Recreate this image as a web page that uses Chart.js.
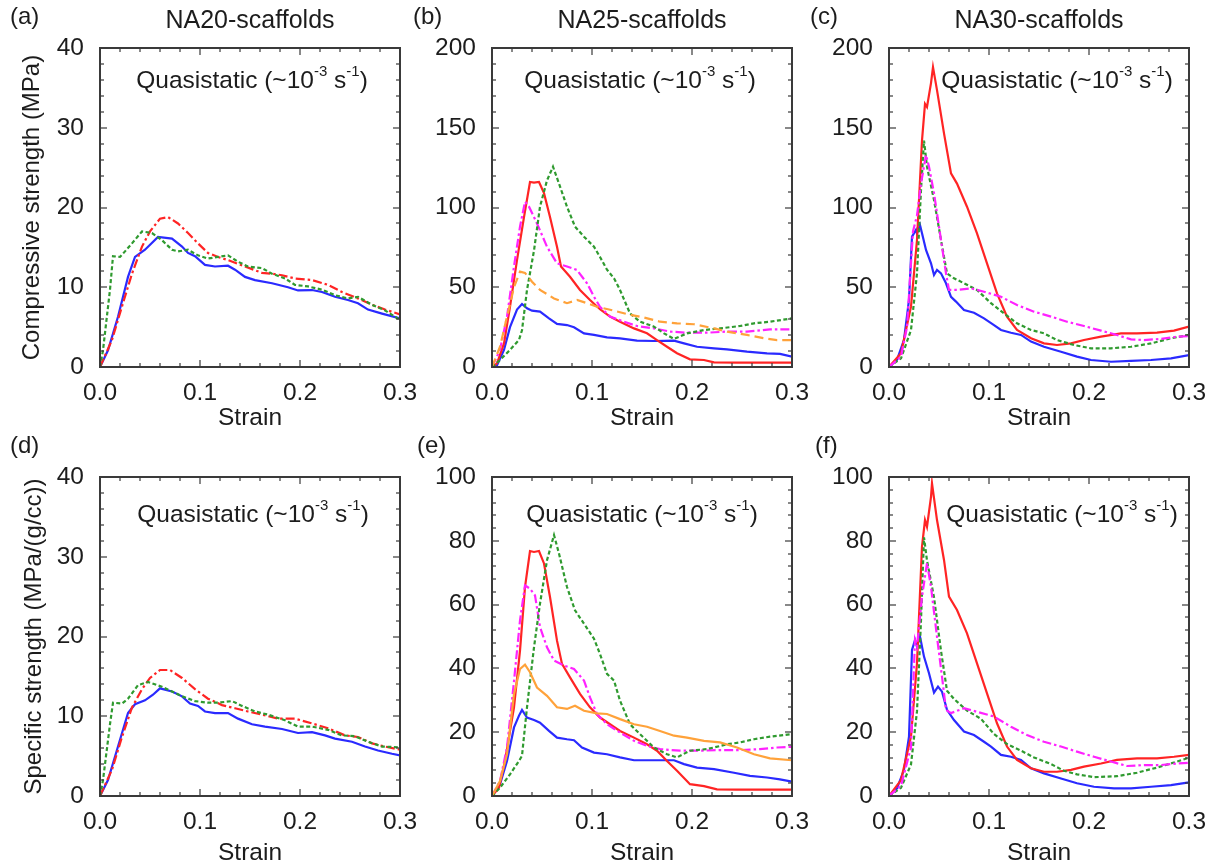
<!DOCTYPE html>
<html>
<head>
<meta charset="utf-8">
<script src="https://cdn.jsdelivr.net/npm/chart.js@4.4.1/dist/chart.umd.min.js"></script>
<style>
html, body { margin: 0; padding: 0; background: #fff; }
#fig { position: relative; width: 1211px; height: 867px; overflow: hidden; }
.cell { position: absolute; }
</style>
</head>
<body>
<div id="fig">
  <div class="cell" style="left:0;top:0"><canvas id="pa" width="425" height="430"></canvas></div>
  <div class="cell" style="left:410px;top:0"><canvas id="pb" width="405" height="430"></canvas></div>
  <div class="cell" style="left:805px;top:0"><canvas id="pc" width="406" height="430"></canvas></div>
  <div class="cell" style="left:0;top:430px"><canvas id="pd" width="425" height="437"></canvas></div>
  <div class="cell" style="left:410px;top:430px"><canvas id="pe" width="405" height="437"></canvas></div>
  <div class="cell" style="left:805px;top:430px"><canvas id="pf" width="406" height="437"></canvas></div>
</div>
<script>
// ---- data (strain, stress) ----
// (a) NA20 compressive strength
var aBlueX  = [0, 0.008, 0.018, 0.028, 0.035, 0.045, 0.058, 0.072, 0.082, 0.088, 0.095, 0.105, 0.115, 0.128, 0.135, 0.145, 0.155, 0.172, 0.188, 0.198, 0.212, 0.222, 0.235, 0.248, 0.258, 0.268, 0.282, 0.3];
var aBlueY  = [0, 2.1, 6.3, 11.3, 13.8, 14.7, 16.3, 16.1, 15.1, 14.3, 13.9, 12.8, 12.6, 12.7, 12.2, 11.3, 10.9, 10.5, 10.0, 9.6, 9.65, 9.4, 8.8, 8.4, 8.0, 7.2, 6.7, 6.1];
var aRedX   = [0, 0.012, 0.022, 0.032, 0.042, 0.05, 0.06, 0.068, 0.078, 0.088, 0.098, 0.108, 0.118, 0.128, 0.145, 0.162, 0.172, 0.182, 0.195, 0.212, 0.228, 0.242, 0.258, 0.272, 0.285, 0.3];
var aRedY   = [0, 3.4, 7.6, 11.7, 15.1, 17.0, 18.6, 18.8, 18.0, 16.8, 15.5, 14.3, 13.8, 13.4, 12.6, 11.8, 11.7, 11.5, 11.1, 10.9, 10.3, 9.4, 8.6, 7.8, 7.2, 6.6];
var aGreenX = [0, 0.003, 0.01, 0.013, 0.02, 0.025, 0.032, 0.042, 0.052, 0.062, 0.072, 0.078, 0.088, 0.098, 0.108, 0.118, 0.128, 0.138, 0.148, 0.162, 0.172, 0.185, 0.195, 0.208, 0.222, 0.235, 0.248, 0.258, 0.272, 0.285, 0.3];
var aGreenY = [0, 2.1, 9.7, 13.9, 13.8, 14.5, 15.5, 17.0, 16.8, 15.9, 14.7, 14.5, 14.7, 14.0, 13.6, 13.8, 14.0, 13.2, 12.6, 12.4, 11.7, 11.1, 10.3, 10.1, 9.7, 9.0, 8.6, 8.8, 7.8, 7.1, 5.9];

// (b) NA25 compressive strength
var bBlueX   = [0, 0.005, 0.012, 0.018, 0.025, 0.03, 0.035, 0.04, 0.048, 0.057, 0.065, 0.075, 0.082, 0.092, 0.102, 0.115, 0.128, 0.145, 0.162, 0.182, 0.192, 0.205, 0.222, 0.235, 0.255, 0.275, 0.288, 0.3];
var bBlueY   = [0, 1, 10.7, 25, 36, 39.5, 36.8, 35.3, 34.7, 30.5, 27, 26.3, 24.9, 21.1, 20.1, 18.6, 18, 16.5, 16.3, 16.5, 14.8, 12.7, 11.7, 11.1, 9.6, 8.6, 8.2, 6.5];
var bRedX    = [0, 0.005, 0.012, 0.018, 0.025, 0.032, 0.038, 0.042, 0.047, 0.052, 0.058, 0.065, 0.069, 0.078, 0.088, 0.098, 0.108, 0.118, 0.128, 0.142, 0.155, 0.165, 0.175, 0.185, 0.198, 0.212, 0.222, 0.245, 0.3];
var bRedY    = [0, 2.3, 14.8, 37.8, 67, 94, 116, 115.6, 116, 109, 94, 75.4, 63, 56.6, 48.3, 42, 36.2, 31.6, 28.4, 24.2, 21.1, 16.9, 12.7, 8.6, 4.8, 4.4, 2.9, 2.7, 2.7];
var bMagX    = [0, 0.008, 0.015, 0.022, 0.028, 0.033, 0.037, 0.045, 0.055, 0.065, 0.075, 0.085, 0.095, 0.102, 0.108, 0.118, 0.132, 0.145, 0.162, 0.178, 0.195, 0.215, 0.235, 0.255, 0.278, 0.3];
var bMagY    = [0, 10.7, 31.5, 63, 88, 103.6, 100.5, 90, 75.4, 65, 63, 60.8, 52.5, 44, 37.8, 31.6, 28.4, 25.7, 24.2, 22.2, 21.5, 21.5, 22.2, 22.2, 23.6, 23.6];
var bOrangeX = [0, 0.008, 0.015, 0.022, 0.028, 0.033, 0.04, 0.048, 0.062, 0.075, 0.085, 0.095, 0.105, 0.122, 0.135, 0.152, 0.168, 0.185, 0.202, 0.222, 0.235, 0.255, 0.272, 0.285, 0.3];
var bOrangeY = [0, 12.7, 31.5, 50, 59.8, 59, 53.5, 48.3, 43, 40, 42, 40, 37.8, 35.3, 33.2, 31, 28.4, 27.4, 26.8, 24.2, 22.2, 20.1, 18, 16.9, 16.9];
var bGreenX  = [0, 0.008, 0.018, 0.027, 0.03, 0.035, 0.042, 0.048, 0.055, 0.061, 0.067, 0.075, 0.083, 0.092, 0.102, 0.108, 0.115, 0.122, 0.128, 0.138, 0.148, 0.162, 0.172, 0.182, 0.195, 0.212, 0.228, 0.248, 0.262, 0.278, 0.3];
var bGreenY  = [0, 4.4, 10.7, 17, 23, 48.3, 73, 100.5, 117, 125.6, 115, 100.5, 88, 81.7, 75.4, 69, 61, 55.6, 48.3, 33.6, 28.4, 25.3, 21.1, 17.6, 21.1, 23.2, 24.2, 25.7, 27.4, 28.4, 30.5];

// (c) NA30 compressive strength
var cBlueX  = [0, 0.008, 0.015, 0.02, 0.023, 0.027, 0.028, 0.031, 0.033, 0.037, 0.042, 0.045, 0.048, 0.052, 0.057, 0.062, 0.067, 0.075, 0.085, 0.095, 0.105, 0.112, 0.122, 0.132, 0.142, 0.155, 0.172, 0.188, 0.202, 0.222, 0.242, 0.262, 0.282, 0.3];
var cBlueY  = [0, 4.4, 17, 42, 81.7, 86, 83.8, 89, 83.8, 73.4, 65, 57.7, 60.8, 58.7, 52.5, 44, 41, 35.7, 34, 30.5, 26.3, 23.2, 21.5, 20.1, 15.9, 12.7, 9.6, 6.5, 4.4, 3.3, 3.8, 4.4, 5.4, 7.5];
var cRedX   = [0, 0.012, 0.022, 0.028, 0.033, 0.036, 0.038, 0.042, 0.044, 0.048, 0.055, 0.062, 0.068, 0.078, 0.088, 0.098, 0.108, 0.118, 0.128, 0.142, 0.155, 0.168, 0.182, 0.195, 0.212, 0.232, 0.248, 0.268, 0.285, 0.3];
var cRedY   = [0, 8.6, 37.8, 79.6, 142, 165, 163, 178, 188, 173.6, 146.5, 121.4, 115, 100.5, 83.8, 65, 46.2, 31.6, 23.2, 18, 14.8, 13.8, 14.8, 16.9, 19, 21.1, 21.1, 21.5, 22.8, 25.3];
var cGreenX = [0, 0.012, 0.022, 0.028, 0.032, 0.035, 0.038, 0.045, 0.052, 0.058, 0.065, 0.075, 0.088, 0.102, 0.115, 0.128, 0.142, 0.155, 0.168, 0.185, 0.202, 0.222, 0.242, 0.262, 0.282, 0.3];
var cGreenY = [0, 5.4, 23.2, 58.7, 111, 142, 125.6, 104.7, 79.6, 58.7, 55.6, 52.5, 48.3, 40, 33.6, 27.4, 23.2, 21.1, 16.9, 13.8, 11.7, 11.7, 12.7, 14.8, 18, 20.1];
var cMagX   = [0, 0.012, 0.018, 0.024, 0.028, 0.032, 0.037, 0.04, 0.045, 0.052, 0.057, 0.06, 0.068, 0.082, 0.095, 0.112, 0.128, 0.145, 0.162, 0.178, 0.195, 0.212, 0.228, 0.242, 0.255, 0.272, 0.288, 0.3];
var cMagY   = [0, 6.5, 25, 85, 95, 115, 133, 125.6, 109, 79.6, 58.7, 48.3, 48.3, 49.3, 47.2, 44, 38.9, 34.7, 31.6, 28.4, 25.7, 22.8, 20.1, 17.3, 16.9, 17.6, 19, 19.4];

// (d) NA20 specific strength
var dBlueX  = [0, 0.008, 0.018, 0.028, 0.035, 0.045, 0.053, 0.06, 0.072, 0.082, 0.09, 0.098, 0.105, 0.115, 0.128, 0.138, 0.152, 0.165, 0.182, 0.198, 0.212, 0.225, 0.235, 0.252, 0.265, 0.278, 0.292, 0.3];
var dBlueY  = [0, 2.0, 6.2, 10.4, 11.5, 12.0, 12.7, 13.5, 13.1, 12.5, 11.6, 11.3, 10.6, 10.4, 10.4, 9.7, 9.0, 8.7, 8.4, 7.9, 8.0, 7.6, 7.2, 6.8, 6.2, 5.7, 5.3, 5.1];
var dRedX   = [0, 0.012, 0.022, 0.032, 0.042, 0.05, 0.06, 0.07, 0.082, 0.095, 0.108, 0.122, 0.135, 0.148, 0.162, 0.178, 0.195, 0.212, 0.228, 0.245, 0.258, 0.272, 0.285, 0.3];
var dRedY   = [0, 3.3, 7.4, 11.1, 13.4, 14.8, 15.8, 15.8, 14.8, 13.4, 12.2, 11.4, 11.0, 10.6, 10.2, 9.7, 9.7, 9.1, 8.5, 7.6, 7.4, 6.6, 6.2, 5.8];
var dGreenX = [0, 0.003, 0.01, 0.013, 0.022, 0.028, 0.038, 0.048, 0.062, 0.072, 0.082, 0.095, 0.108, 0.118, 0.132, 0.142, 0.155, 0.168, 0.185, 0.198, 0.212, 0.228, 0.242, 0.255, 0.268, 0.282, 0.3];
var dGreenY = [0, 2.0, 9.0, 11.7, 11.6, 12.2, 13.9, 14.3, 13.7, 13.1, 12.5, 11.9, 11.7, 11.7, 11.9, 11.3, 10.6, 10.2, 9.5, 8.7, 8.7, 8.3, 7.6, 7.5, 6.8, 6.2, 6.1];

// (e) NA25 specific strength
var eBlueX   = [0, 0.008, 0.015, 0.022, 0.027, 0.03, 0.035, 0.042, 0.048, 0.057, 0.065, 0.075, 0.082, 0.09, 0.102, 0.115, 0.128, 0.142, 0.162, 0.182, 0.192, 0.205, 0.222, 0.242, 0.258, 0.275, 0.288, 0.3];
var eBlueY   = [0, 3.7, 11, 21.5, 25.2, 27, 24.6, 23.8, 23, 20.4, 18.3, 17.8, 17.5, 15.2, 13.6, 13.1, 12.1, 11.2, 11.2, 11.2, 10, 8.9, 8.4, 7.3, 6.3, 5.8, 5.2, 4.5];
var eRedX    = [0, 0.007, 0.013, 0.022, 0.028, 0.033, 0.038, 0.042, 0.047, 0.052, 0.058, 0.065, 0.07, 0.078, 0.088, 0.098, 0.108, 0.118, 0.128, 0.142, 0.155, 0.165, 0.175, 0.185, 0.198, 0.212, 0.225, 0.245, 0.3];
var eRedY    = [0, 2.6, 11, 27.8, 45.6, 65.5, 76.8, 76.5, 76.8, 72.9, 62.4, 48.7, 41.4, 37.2, 32, 27.8, 24.6, 22.5, 20.4, 18.3, 16.2, 14.2, 11, 7.9, 3.7, 3.1, 2.1, 2, 2];
var eMagX    = [0, 0.008, 0.015, 0.022, 0.028, 0.033, 0.038, 0.043, 0.048, 0.055, 0.062, 0.072, 0.082, 0.092, 0.098, 0.105, 0.115, 0.128, 0.142, 0.155, 0.168, 0.188, 0.208, 0.228, 0.248, 0.268, 0.285, 0.3];
var eMagY    = [0, 4.7, 15.2, 36, 55, 66, 65, 62.9, 53, 46.6, 42.5, 40.9, 39.8, 36.2, 30.9, 25.7, 22.5, 19.9, 17.3, 15.7, 14.7, 14.2, 14.2, 14.4, 14.4, 14.7, 15.2, 15.4];
var eOrangeX = [0, 0.008, 0.015, 0.022, 0.028, 0.033, 0.038, 0.045, 0.055, 0.065, 0.075, 0.083, 0.092, 0.105, 0.115, 0.128, 0.142, 0.155, 0.168, 0.182, 0.195, 0.212, 0.228, 0.245, 0.262, 0.278, 0.3];
var eOrangeY = [0, 4.7, 13.1, 32, 39.8, 41.2, 38.8, 34, 31.4, 27.8, 27.3, 28.3, 26.7, 25.9, 25.7, 24.1, 22.5, 21.7, 20.4, 18.9, 18.3, 17.3, 16.8, 15.2, 13.1, 11.8, 11.2];
var eGreenX  = [0, 0.008, 0.018, 0.027, 0.03, 0.035, 0.042, 0.048, 0.055, 0.062, 0.067, 0.075, 0.083, 0.092, 0.102, 0.108, 0.115, 0.122, 0.128, 0.138, 0.148, 0.162, 0.175, 0.185, 0.198, 0.215, 0.235, 0.248, 0.262, 0.278, 0.3];
var eGreenY  = [0, 2.6, 6.8, 11, 12.6, 27.8, 46.6, 60.3, 73.9, 81.8, 76, 65.5, 58.2, 54, 49.3, 44.5, 38.3, 36.2, 29.9, 22.5, 19.4, 15.2, 13.1, 12.1, 14.2, 14.7, 16.2, 16.8, 17.8, 18.6, 19.4];

// (f) NA30 specific strength
var fBlueX  = [0, 0.008, 0.015, 0.02, 0.023, 0.026, 0.028, 0.031, 0.035, 0.04, 0.045, 0.049, 0.053, 0.058, 0.065, 0.075, 0.085, 0.095, 0.102, 0.112, 0.122, 0.132, 0.142, 0.155, 0.172, 0.188, 0.205, 0.225, 0.242, 0.262, 0.282, 0.3];
var fBlueY  = [0, 2.4, 8.2, 18.6, 45.8, 48.9, 46.8, 50, 43.7, 38.5, 32.4, 34.3, 32.7, 27, 23.8, 20.2, 19.1, 17, 15.5, 12.9, 12.3, 11.3, 8.7, 7.1, 5.5, 4, 2.9, 2.4, 2.4, 2.9, 3.4, 4.3];
var fRedX   = [0, 0.012, 0.022, 0.028, 0.033, 0.036, 0.038, 0.042, 0.043, 0.048, 0.055, 0.06, 0.068, 0.078, 0.088, 0.098, 0.108, 0.118, 0.128, 0.142, 0.155, 0.168, 0.182, 0.195, 0.212, 0.228, 0.248, 0.268, 0.285, 0.3];
var fRedY   = [0, 5, 18.6, 41.6, 78.2, 86.5, 84.4, 93.8, 98, 86.5, 74, 62.5, 58.3, 51, 41.6, 32.2, 22.8, 15.5, 11.3, 8.7, 7.6, 7.6, 8.2, 9.2, 10.2, 11.3, 11.8, 11.8, 12.3, 12.9];
var fGreenX = [0, 0.012, 0.022, 0.028, 0.032, 0.035, 0.038, 0.045, 0.052, 0.058, 0.065, 0.078, 0.092, 0.105, 0.118, 0.132, 0.145, 0.162, 0.175, 0.188, 0.205, 0.228, 0.248, 0.268, 0.285, 0.3];
var fGreenY = [0, 2.6, 9.9, 26.6, 55, 81.1, 73.8, 62.3, 45.5, 33, 30.4, 26.8, 24.2, 19.4, 16.3, 14.2, 12.1, 10, 7.9, 6.8, 5.9, 6.2, 7.3, 8.9, 10.5, 12];
var fMagX   = [0, 0.012, 0.022, 0.026, 0.028, 0.033, 0.038, 0.042, 0.048, 0.053, 0.057, 0.062, 0.075, 0.088, 0.105, 0.122, 0.138, 0.155, 0.172, 0.188, 0.205, 0.222, 0.238, 0.255, 0.272, 0.288, 0.3];
var fMagY   = [0, 3.2, 15.2, 48.9, 46.8, 62.5, 73, 65.6, 49.9, 37.4, 27, 26, 27.5, 26.4, 24.9, 21.7, 19.1, 17, 15.5, 13.9, 12.3, 10.8, 9.4, 9.7, 9.7, 10.2, 10.4];

var panelTitles = ['NA20-scaffolds', 'NA25-scaffolds', 'NA30-scaffolds'];
var rateLabel = ['Quasistatic (~10', '-3', ' s', '-1', ')'];

// ---- styles ----
var FONT = '"Liberation Sans", Arial, sans-serif';
var TXT = '#1c1c1c';
var FRAME = '#3a3a3a';
var BLUE = '#2a2aff', RED = '#ff2424', GREEN = '#2f9a2f', MAG = '#ff22ff', ORANGE = '#ffa23a';
var SOLID = [], DOT = [4, 2.5], DASHDOT = [9, 3, 2.5, 3], DASH = [9, 5];

function line(xs, ys, color, dash) {
    return {
        data: xs.map(function (x, i) { return {x: x, y: ys[i]}; }),
        borderColor: color,
        borderDash: dash,
        borderWidth: 2.2,
        pointRadius: 0,
        tension: 0,
        fill: false
    };
}

// frame, inward ticks on all four sides, and the panel texts
var panelDeco = {
    id: 'panelDeco',
    afterDraw: function (chart, args, o) {
        var ctx = chart.ctx, a = chart.chartArea, xs = chart.scales.x, ys = chart.scales.y;
        var L = Math.round(a.left), T = Math.round(a.top), R = Math.round(a.right), B = Math.round(a.bottom);
        ctx.save();
        ctx.fillStyle = FRAME;
        // box as thin filled bars
        ctx.fillRect(L - 1, T - 1, R - L + 2, 2);
        ctx.fillRect(L - 1, B - 1, R - L + 2, 2);
        ctx.fillRect(L - 1, T - 1, 2, B - T + 2);
        ctx.fillRect(R - 1, T - 1, 2, B - T + 2);
        for (var i = 0; i <= 15; i++) {
            var px = Math.round(xs.getPixelForValue(i * 0.02)), len = (i % 5 === 0) ? 7 : 4;
            ctx.fillRect(px - 0.6, B - len, 1.2, len);
            ctx.fillRect(px - 0.6, T, 1.2, len);
        }
        var n = Math.round(o.yMax / o.yStep) * 5;
        for (var j = 0; j <= n; j++) {
            var py = Math.round(ys.getPixelForValue(j * o.yStep / 5)), l2 = (j % 5 === 0) ? 7 : 4;
            ctx.fillRect(L, py - 0.6, l2, 1.2);
            ctx.fillRect(R - l2, py - 0.6, l2, 1.2);
        }

        ctx.fillStyle = TXT;
        ctx.textBaseline = 'middle';
        ctx.font = '24px ' + FONT;
        ctx.textAlign = 'left';
        ctx.fillText(o.letter, a.left + o.letterDx, a.top - 31);
        if (o.title) {
            ctx.font = '25px ' + FONT;
            ctx.textAlign = 'center';
            ctx.fillText(o.title, (a.left + a.right) / 2, a.top - 27);
        }
        // "Quasistatic (~10^-3 s^-1)" with superscripts
        var big = '24.5px ' + FONT, small = '15px ' + FONT, w = 0;
        rateLabel.forEach(function (t, k) { ctx.font = (k % 2) ? small : big; w += ctx.measureText(t).width; });
        var x = (a.left + a.right) / 2 + o.rateDx - w / 2, y = a.top + o.rateDy;
        ctx.textAlign = 'left';
        rateLabel.forEach(function (t, k) {
            ctx.font = (k % 2) ? small : big;
            ctx.fillText(t, x, (k % 2) ? y - 9 : y);
            x += ctx.measureText(t).width;
        });
        ctx.restore();
    }
};

function makePanel(id, cfg) {
    var canvas = document.getElementById(id);
    var top = cfg.row === 0;
    var chartTop = top ? 48 : 47;
    var chartBottom = top ? 367 : 366;
    new Chart(canvas, {
        type: 'line',
        data: {datasets: cfg.datasets},
        options: {
            responsive: false,
            animation: false,
            layout: {padding: {left: 0, top: chartTop, right: canvas.width - cfg.yWidth - 300, bottom: 0}},
            plugins: {
                legend: {display: false},
                tooltip: {enabled: false},
                panelDeco: {letter: cfg.letter, letterDx: cfg.letterDx, title: cfg.title,
                            rateDx: cfg.rateDx, rateDy: top ? 33 : 38, yMax: cfg.yMax, yStep: cfg.yStep}
            },
            scales: {
                x: {
                    type: 'linear', min: 0, max: 0.3,
                    grid: {display: false}, border: {display: true, color: FRAME, width: 1.5},
                    ticks: {stepSize: 0.1, padding: 6, color: TXT, maxRotation: 0,
                            font: {family: FONT, size: 24.5, lineHeight: 1},
                            callback: function (v) { return Number(v).toFixed(1); }},
                    title: {display: true, text: 'Strain', color: TXT,
                            font: {family: FONT, size: 24.5, lineHeight: 1},
                            padding: {top: 0, bottom: top ? 0 : 2}},
                    afterFit: function (s) { s.height = canvas.height - chartBottom; s.paddingLeft = 0; s.paddingRight = 0; }
                },
                y: {
                    min: 0, max: cfg.yMax,
                    grid: {display: false}, border: {display: true, color: FRAME, width: 1.5},
                    ticks: {stepSize: cfg.yStep, padding: 8, color: TXT,
                            font: {family: FONT, size: 24.5, lineHeight: 1}},
                    title: {display: !!cfg.yTitle, text: cfg.yTitle || '', color: TXT,
                            font: {family: FONT, size: 24, lineHeight: 1},
                            padding: {top: top ? 20 : 22, bottom: 0}},
                    afterFit: function (s) { s.width = cfg.yWidth; s.paddingTop = 0; s.paddingBottom = 0; }
                }
            }
        },
        plugins: [panelDeco]
    });
}

makePanel('pa', {row: 0, letter: '(a)', letterDx: -90, title: panelTitles[0], yTitle: 'Compressive strength (MPa)',
    yWidth: 100, yMax: 40, yStep: 10, rateDx: 2,
    datasets: [line(aGreenX, aGreenY, GREEN, DOT), line(aRedX, aRedY, RED, DASHDOT), line(aBlueX, aBlueY, BLUE, SOLID)]});

makePanel('pb', {row: 0, letter: '(b)', letterDx: -79, title: panelTitles[1],
    yWidth: 82, yMax: 200, yStep: 50, rateDx: -2,
    datasets: [line(bOrangeX, bOrangeY, ORANGE, DASH), line(bGreenX, bGreenY, GREEN, DOT), line(bMagX, bMagY, MAG, DASHDOT),
               line(bRedX, bRedY, RED, SOLID), line(bBlueX, bBlueY, BLUE, SOLID)]});

makePanel('pc', {row: 0, letter: '(c)', letterDx: -79, title: panelTitles[2],
    yWidth: 84, yMax: 200, yStep: 50, rateDx: 18,
    datasets: [line(cMagX, cMagY, MAG, DASHDOT), line(cGreenX, cGreenY, GREEN, DOT),
               line(cRedX, cRedY, RED, SOLID), line(cBlueX, cBlueY, BLUE, SOLID)]});

makePanel('pd', {row: 1, letter: '(d)', letterDx: -90, yTitle: 'Specific strength (MPa/(g/cc))',
    yWidth: 100, yMax: 40, yStep: 10, rateDx: 3,
    datasets: [line(dGreenX, dGreenY, GREEN, DOT), line(dRedX, dRedY, RED, DASHDOT), line(dBlueX, dBlueY, BLUE, SOLID)]});

makePanel('pe', {row: 1, letter: '(e)', letterDx: -75,
    yWidth: 82, yMax: 100, yStep: 20, rateDx: 0,
    datasets: [line(eOrangeX, eOrangeY, ORANGE, SOLID), line(eGreenX, eGreenY, GREEN, DOT), line(eMagX, eMagY, MAG, DASHDOT),
               line(eRedX, eRedY, RED, SOLID), line(eBlueX, eBlueY, BLUE, SOLID)]});

makePanel('pf', {row: 1, letter: '(f)', letterDx: -74,
    yWidth: 84, yMax: 100, yStep: 20, rateDx: 23,
    datasets: [line(fMagX, fMagY, MAG, DASHDOT), line(fGreenX, fGreenY, GREEN, DOT),
               line(fRedX, fRedY, RED, SOLID), line(fBlueX, fBlueY, BLUE, SOLID)]});
</script>
</body>
</html>
